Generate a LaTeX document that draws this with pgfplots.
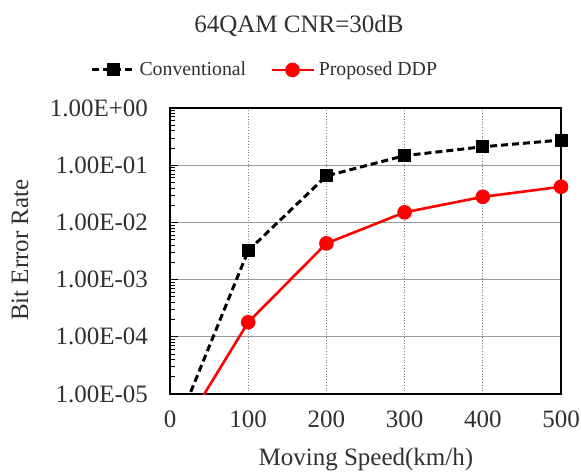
\documentclass[border=0pt]{standalone}
\usepackage{fontspec}
\setmainfont{Liberation Serif}
\usepackage{pgfplots}
\pgfplotsset{compat=1.18}
\definecolor{txt}{HTML}{303030}
\definecolor{myred}{HTML}{FF0000}
\newcommand{\fs}{\fontsize{12.5}{15}\selectfont}
\newcommand{\fl}{\fontsize{9.9}{12}\selectfont}
\begin{document}
\begin{tikzpicture}
\begin{axis}[
  scale only axis, width=195.5pt, height=143pt,
  at={(0,0)}, anchor=south west,
  xmin=0, xmax=500, ymode=log, ymin=1e-5, ymax=1,
  xtick={0,100,200,300,400,500},
  xticklabels={0,100,200,300,400,500},
  ytick={1e-5,1e-4,1e-3,1e-2,1e-1,1},
  yticklabels={1.00E-05,1.00E-04,1.00E-03,1.00E-02,1.00E-01,1.00E+00},
  yticklabel style={xshift=-7.5pt},
  xticklabel style={yshift=-5pt},
  tick label style={font=\fs, text=txt},
  xmajorgrids, ymajorgrids,
  x grid style={gray, densely dotted, line width=0.5pt},
  y grid style={gray!80, line width=0.5pt},
  xtick style={draw=none},
  ytick pos=left, tick align=inside,
  major tick length=4pt, minor tick length=2.5pt,
  ytick style={black, line width=0.4pt},
  axis line style={line width=1pt},
  title={64QAM CNR=30dB},
  title style={font=\fs, text=txt, at={(axis description cs:0.33,1.245)}, anchor=center},
  xlabel={Moving Speed(km/h)},
  xlabel style={font=\fs, text=txt, at={(axis description cs:0.501,-0.23)}, anchor=center},
  ylabel={Bit Error Rate},
  ylabel style={font=\fs, text=txt, at={(axis description cs:-0.384,0.503)}, anchor=center},
  legend columns=2,
  legend style={font=\fl, text=txt, draw=none, fill=none, at={(axis description cs:0.245,1.133)}, anchor=center,
    /tikz/every even column/.append style={column sep=10pt}},
  legend image code/.code={\draw[mark repeat=2,mark phase=2,#1] plot coordinates {(0pt,0pt) (10.5pt,0pt) (21pt,0pt)};},
]
\addplot[black, line width=1.5pt, dash pattern=on 3.5pt off 2pt, mark=square*, mark size=2.5pt, mark options={solid}]
  coordinates {(100,3.2e-3) (200,6.5e-2) (300,1.47e-1) (400,2.1e-1) (500,2.75e-1)};
\addlegendentry{Conventional}
\addplot[myred, line width=1.3pt, mark=*, mark size=3pt]
  coordinates {(100,1.8e-4) (200,4.3e-3) (300,1.5e-2) (400,2.8e-2) (500,4.2e-2)};
\addlegendentry{Proposed DDP}
\addplot[forget plot, black, line width=1.5pt, dash pattern=on 3.5pt off 2pt]
  coordinates {(0,1.4e-6) (100,3.2e-3)};
\addplot[forget plot, myred, line width=1.3pt]
  coordinates {(0,1.05e-6) (100,1.8e-4)};
\end{axis}
\pgfresetboundingbox
\useasboundingbox (-85pt,-39.5pt) rectangle (205.5pt,197pt);
\end{tikzpicture}
\end{document}
